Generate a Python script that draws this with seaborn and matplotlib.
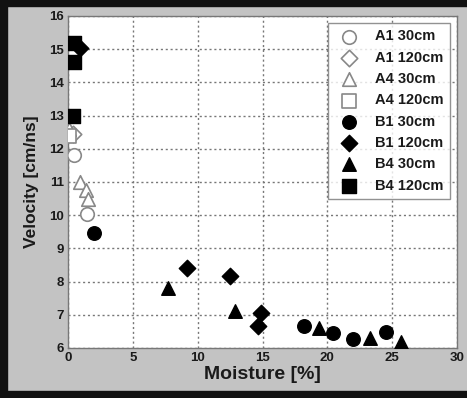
import matplotlib
matplotlib.use("Agg")
import matplotlib.pyplot as plt
import seaborn as sns
import pandas as pd
from matplotlib.patches import Rectangle

sns.set_style("white")
plt.rcParams['font.family'] = ['Liberation Sans', 'DejaVu Sans']

labels = ["A1 30cm", "A1 120cm", "A4 30cm", "A4 120cm",
          "B1 30cm", "B1 120cm", "B4 30cm", "B4 120cm"]

a1_30_x = [0.5, 1.5]
a1_30_y = [11.8, 10.05]
a1_120_x = [0.35]
a1_120_y = [12.45]
a4_30_x = [0.05, 0.95, 1.35, 1.55]
a4_30_y = [12.6, 11.0, 10.75, 10.5]
a4_120_x = [0.1]
a4_120_y = [12.4]
b1_30_x = [2.0, 18.2, 20.4, 22.0, 24.5]
b1_30_y = [9.45, 6.67, 6.45, 6.27, 6.49]
b1_120_x = [0.9, 9.2, 12.5, 14.9, 14.65]
b1_120_y = [15.03, 8.4, 8.18, 7.05, 6.66]
b4_30_x = [7.7, 12.9, 19.35, 23.3, 25.7]
b4_30_y = [7.8, 7.1, 6.6, 6.3, 6.18]
b4_120_x = [0.45, 0.5, 0.4]
b4_120_y = [15.18, 14.62, 13.0]

series = [
    (a1_30_x, a1_30_y, "o", False),
    (a1_120_x, a1_120_y, "D", False),
    (a4_30_x, a4_30_y, "^", False),
    (a4_120_x, a4_120_y, "s", False),
    (b1_30_x, b1_30_y, "o", True),
    (b1_120_x, b1_120_y, "D", True),
    (b4_30_x, b4_30_y, "^", True),
    (b4_120_x, b4_120_y, "s", True),
]

fig = plt.figure(figsize=(4.67, 3.98), dpi=100)
fig.patch.set_facecolor("#c3c3c3")
ax = fig.add_axes([68/467, 1-348/398, (457-68)/467, (348-16)/398])
ax.set_facecolor("white")

for lab, (xs, ys, m, filled) in zip(labels, series):
    df = pd.DataFrame({"x": xs, "y": ys})
    size = 95 if m != "D" else 70
    if filled:
        sns.scatterplot(data=df, x="x", y="y", marker=m, s=size, color="black",
                        edgecolor="black", linewidth=1.0, ax=ax, label=lab, zorder=3)
    else:
        sns.scatterplot(data=df, x="x", y="y", marker=m, s=size, facecolor="white",
                        edgecolor="#888888", linewidth=1.2, ax=ax, label=lab, zorder=3)

ax.set_xlim(0, 30)
ax.set_ylim(6, 16)
ax.set_xticks([0, 5, 10, 15, 20, 25, 30])
ax.set_yticks(range(6, 17))
ax.grid(True, linestyle=(0, (1.5, 2.0)), color="#777777", linewidth=1.0)
ax.set_axisbelow(True)
for s in ax.spines.values():
    s.set_color("#777777")
    s.set_linewidth(1.0)
ax.tick_params(axis="both", labelsize=9.5, length=0, pad=3, labelcolor="#1a1a1a")
for t in ax.get_xticklabels() + ax.get_yticklabels():
    t.set_fontweight("bold")
ax.set_xlabel("Moisture [%]", fontsize=14, fontweight="bold", labelpad=1,
              color="#1a1a1a")
ax.set_ylabel("Velocity [cm/ns]", fontsize=12.5, fontweight="bold", labelpad=7,
              color="#1a1a1a")

leg = ax.legend(loc="upper right", fontsize=10.5, frameon=True, fancybox=False,
                borderpad=0.45, labelspacing=0.5, handletextpad=0.8,
                handlelength=2.0, markerscale=1.0,
                bbox_to_anchor=(0.99, 0.988), borderaxespad=0.2)
leg.get_frame().set_edgecolor("#777777")
leg.get_frame().set_linewidth(1.0)
for t in leg.get_texts():
    t.set_fontweight("bold")
    t.set_color("#1a1a1a")

# dark frame around figure
fig.patches.append(Rectangle((0, 0), 7/467, 1, transform=fig.transFigure,
                             color="#111111", zorder=0))
fig.patches.append(Rectangle((0, 1-6/398), 1, 6/398, transform=fig.transFigure,
                             color="#111111", zorder=0))
fig.patches.append(Rectangle((0, 0), 1, 7/398, transform=fig.transFigure,
                             color="#111111", zorder=0))

fig.savefig("out.png", dpi=100, facecolor=fig.get_facecolor())
